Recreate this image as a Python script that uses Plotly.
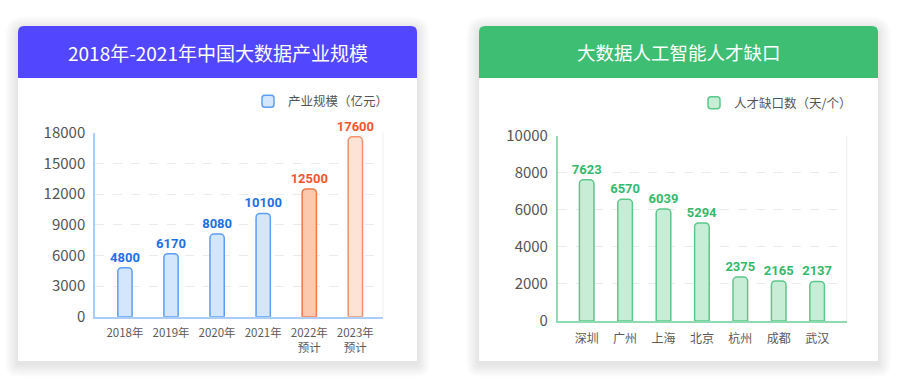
import plotly.graph_objects as go

W, H = 900, 381

# ---------------- data ----------------
years = ["2018年", "2019年", "2020年", "2021年", "2022年<br>预计", "2023年<br>预计"]
scale_values = [4800, 6170, 8080, 10100, 12500, 17600]
cities = ["深圳", "广州", "上海", "北京", "杭州", "成都", "武汉"]
gap_values = [7623, 6570, 6039, 5294, 2375, 2165, 2137]
left_title = "2018年-2021年中国大数据产业规模"
right_title = "大数据人工智能人才缺口"
left_series = "产业规模（亿元）"
right_series = "人才缺口数（天/个）"
left_yticks = [0, 3000, 6000, 9000, 12000, 15000, 18000]
right_yticks = [0, 2000, 4000, 6000, 8000, 10000]

# ---------------- styles ----------------
FONT = "Noto Sans CJK SC"
NUMFONT = "Roboto, Noto Sans CJK SC"
PURPLE = "#5247fe"
GREEN = "#3dbe73"
BLUE_FILL, BLUE_LINE, BLUE_TEXT = "#d4e6fc", "#5c9ef2", "#1d6fe3"
OR1_FILL, OR1_LINE = "#fcc8ae", "#f3774b"
OR2_FILL, OR2_LINE = "#fde3d5", "#f4916c"
OR_TEXT = "#f2562c"
GR_FILL, GR_LINE, GR_TEXT = "#c8edd7", "#5cc78a", "#34b96c"


def X(px):
    return px / W


def Y(py):
    return 1 - py / H


def rr_path(x0, y0, x1, y1, rt, rb):
    """rounded rect path in paper coords from pixel coords (y down)."""
    def P(x, y):
        return f"{X(x):.5f},{Y(y):.5f}"
    s = f"M {P(x0 + rt, y0)} L {P(x1 - rt, y0)} Q {P(x1, y0)} {P(x1, y0 + rt)} "
    s += f"L {P(x1, y1 - rb)} Q {P(x1, y1)} {P(x1 - rb, y1)} "
    s += f"L {P(x0 + rb, y1)} Q {P(x0, y1)} {P(x0, y1 - rb)} "
    s += f"L {P(x0, y0 + rt)} Q {P(x0, y0)} {P(x0 + rt, y0)} Z"
    return s


shapes = []
cards = [(18, 26, 417, 361, PURPLE), (479, 26, 878, 361, GREEN)]
for (cx0, cy0, cx1, cy1, col) in cards:
    # soft shadow
    for i in range(1, 14):
        shapes.append(dict(type="path", xref="paper", yref="paper", layer="below",
                           path=rr_path(cx0 - i, cy0 - i + 3, cx1 + i, cy1 + i + 3, 6 + i, i),
                           fillcolor="rgba(0,0,0,0.007)", line=dict(width=0)))
    shapes.append(dict(type="path", xref="paper", yref="paper", layer="below",
                       path=rr_path(cx0, cy0, cx1, cy1, 6, 0),
                       fillcolor="white", line=dict(width=0)))
    shapes.append(dict(type="path", xref="paper", yref="paper", layer="below",
                       path=rr_path(cx0, cy0, cx1, 78, 6, 0),
                       fillcolor=col, line=dict(width=0)))

fig = go.Figure()

left_fill = [BLUE_FILL] * 4 + [OR1_FILL, OR2_FILL]
left_line = [BLUE_LINE] * 4 + [OR1_LINE, OR2_LINE]
left_text = [BLUE_TEXT] * 4 + [OR_TEXT, OR_TEXT]

fig.add_trace(go.Bar(
    x=years, y=scale_values, name=left_series, width=0.31,
    marker=dict(color=left_fill, line=dict(color=left_line, width=1.5), cornerradius=4),
    text=[str(v) for v in scale_values], textposition="outside", constraintext="none",
    textfont=dict(family=NUMFONT, size=13, color=left_text, weight="bold"),
    cliponaxis=False, xaxis="x", yaxis="y", legend="legend",
    hoverinfo="skip"))

fig.add_trace(go.Bar(
    x=cities, y=gap_values, name=right_series, width=0.38,
    marker=dict(color=GR_FILL, line=dict(color=GR_LINE, width=1.5), cornerradius=4),
    text=[str(v) for v in gap_values], textposition="outside", constraintext="none",
    textfont=dict(family=NUMFONT, size=13, color=GR_TEXT, weight="bold"),
    cliponaxis=False, xaxis="x2", yaxis="y2", legend="legend2",
    hoverinfo="skip"))

# plot area right borders
shapes.append(dict(type="line", xref="paper", yref="paper", x0=X(383), x1=X(383),
                   y0=Y(316.7), y1=Y(132.7), line=dict(color="#eeeeee", width=1)))
shapes.append(dict(type="line", xref="paper", yref="paper", x0=X(846.7), x1=X(846.7),
                   y0=Y(321), y1=Y(135.7), line=dict(color="#eeeeee", width=1)))

annotations = [
    dict(text=left_title, x=X(217.5), y=Y(52), xref="paper", yref="paper",
         showarrow=False, font=dict(family=FONT, size=19, color="white"),
         xanchor="center", yanchor="middle"),
    dict(text=right_title, x=X(678.5), y=Y(52), xref="paper", yref="paper",
         showarrow=False, font=dict(family=FONT, size=18.5, color="white"),
         xanchor="center", yanchor="middle"),
]

axis_common = dict(showgrid=False, zeroline=False, ticks="", fixedrange=True, automargin=False)

fig.update_layout(
    width=W, height=H, margin=dict(l=0, r=0, t=0, b=0, pad=0, autoexpand=False),
    paper_bgcolor="white", plot_bgcolor="rgba(0,0,0,0)",
    font=dict(family=FONT, color="#555"),
    shapes=shapes, annotations=annotations,
    xaxis=dict(domain=[X(95), X(383)], range=[-0.65, 5.6], showline=True,
               linecolor="#abcdf7", linewidth=1.5, anchor="y",
               tickfont=dict(size=11.5, color="#5a5a5a"), ticklabelstandoff=5, **axis_common),
    yaxis=dict(domain=[Y(316.7), Y(132.7)], range=[0, 18000], tickvals=left_yticks,
               ticktext=[str(v) for v in left_yticks],
               showline=True, linecolor="#abcdf7", linewidth=1.5, anchor="x",
               showgrid=True, gridcolor="#ebebeb", griddash="dash", gridwidth=1,
               zeroline=False, ticks="", fixedrange=True, automargin=False,
               tickfont=dict(size=15, color="#555"), ticklabelstandoff=5),
    xaxis2=dict(domain=[X(557.7), X(846.7)], range=[-0.755, 6.77], showline=True,
                linecolor="#8fdab0", linewidth=1.5, anchor="y2",
                tickfont=dict(size=12, color="#5a5a5a"), ticklabelstandoff=6, **axis_common),
    yaxis2=dict(domain=[Y(321), Y(135.7)], range=[0, 10000], tickvals=right_yticks,
                ticktext=[str(v) for v in right_yticks],
                showline=True, linecolor="#8fdab0", linewidth=1.5, anchor="x2",
                showgrid=True, gridcolor="#ebebeb", griddash="dash", gridwidth=1,
                zeroline=False, ticks="", fixedrange=True, automargin=False,
                tickfont=dict(size=15, color="#555"), ticklabelstandoff=5),
    legend=dict(x=X(248), y=Y(101.5), xanchor="left", yanchor="middle",
                bgcolor="rgba(0,0,0,0)", font=dict(size=12.5, color="#555", family=FONT)),
    legend2=dict(x=X(694), y=Y(103), xanchor="left", yanchor="middle",
                 bgcolor="rgba(0,0,0,0)", font=dict(size=12.5, color="#555", family=FONT)),
    showlegend=True,
)

fig.write_html("out.html")
